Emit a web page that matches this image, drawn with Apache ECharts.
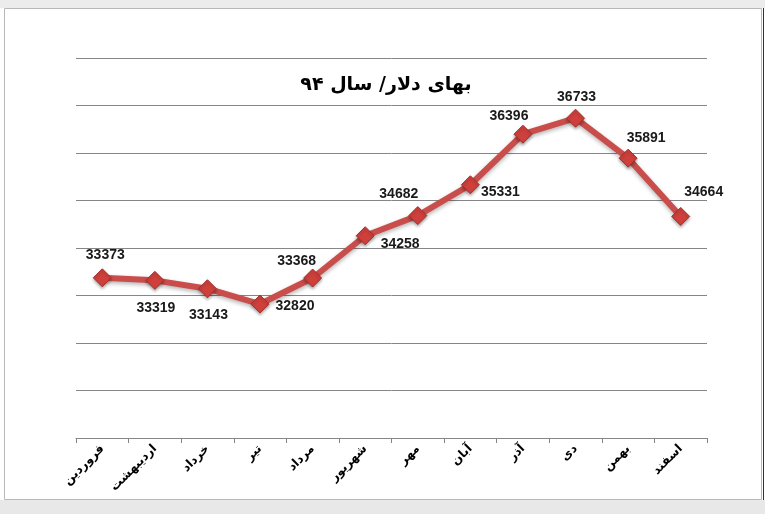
<!DOCTYPE html>
<html>
<head>
<meta charset="utf-8">
<script src="https://cdn.jsdelivr.net/npm/echarts@6/dist/echarts.min.js"></script>
<style>
html,body{margin:0;padding:0;background:#fff;}
#chart{width:765px;height:514px;}
</style>
</head>
<body>
<div id="chart"></div>
<script>
const chartTitle = 'بهای دلار/ سال ۹۴';
const months = ['فروردین','اردیبهشت','خرداد','تیر','مرداد','شهریور','مهر','آبان','آذر','دی','بهمن','اسفند'];
const dollarPrice = [33373, 33319, 33143, 32820, 33368, 34258, 34682, 35331, 36396, 36733, 35891, 34664];
const yMin = 30000, yMax = 38000, yStep = 1000;

// label placement (style only)
const labelPlacement = [
  ['top',[3,-1]],['bottom',[1,6]],['bottom',[1,5]],['right',[1,2]],
  ['top',[-16,5]],['right',[1,8]],['top',[-19,0]],['right',[-4,7]],
  ['top',[-14,3]],['top',[1,0]],['top',[18,1]],['top',[23,-3]]
];

const chart = echarts.init(document.getElementById('chart'));
chart.setOption({
  animation:false,
  backgroundColor:'#ffffff',
  graphic:[
    {type:'rect',shape:{x:0,y:0,width:765,height:8},style:{fill:'#ececec'},z:-10},
    {type:'rect',shape:{x:0,y:500,width:765,height:14},style:{fill:'#e8e8e8'},z:-10},
    {type:'rect',shape:{x:4.5,y:8.5,width:757,height:491},style:{fill:'#fff',stroke:'#b8b8b8',lineWidth:1},z:-9},
    {type:'line',shape:{x1:763.5,y1:8,x2:763.5,y2:500},style:{stroke:'#333',lineWidth:1},z:-8},
    {type:'text',x:386,y:85,style:{text:chartTitle,fill:'#000',font:'bold 19px "DejaVu Sans", sans-serif',textAlign:'center',textVerticalAlign:'middle'}}
  ],
  grid:{left:76,right:58,top:58,bottom:76,containLabel:false},
  xAxis:{
    type:'category',data:months,boundaryGap:true,
    axisLine:{lineStyle:{color:'#868686',width:1}},
    axisTick:{show:true,length:5,lineStyle:{color:'#868686'}},
    axisLabel:{rotate:45,margin:9,color:'#000',fontWeight:'bold',fontSize:12,fontFamily:'"DejaVu Sans", sans-serif',interval:0}
  },
  yAxis:{
    type:'value',min:yMin,max:yMax,interval:yStep,
    axisLine:{show:false},axisTick:{show:false},axisLabel:{show:false},
    splitLine:{lineStyle:{color:'#868686',width:1}}
  },
  series:[{
    type:'line',
    data:dollarPrice.map((v,i)=>({value:v,label:{position:labelPlacement[i][0],offset:labelPlacement[i][1]}})),
    symbol:'diamond',symbolSize:18,
    lineStyle:{color:'#c94d4a',width:6,shadowColor:'rgba(0,0,0,0.3)',shadowBlur:4,shadowOffsetY:2},
    itemStyle:{color:'#cf403c',borderColor:'#a52f2c',borderWidth:1,shadowColor:'rgba(0,0,0,0.3)',shadowBlur:3,shadowOffsetY:2},
    label:{show:true,distance:5,color:'#1a1a1a',fontWeight:'bold',fontSize:14,fontFamily:'"Liberation Sans", Arial, sans-serif'}
  }]
});
</script>
</body>
</html>
